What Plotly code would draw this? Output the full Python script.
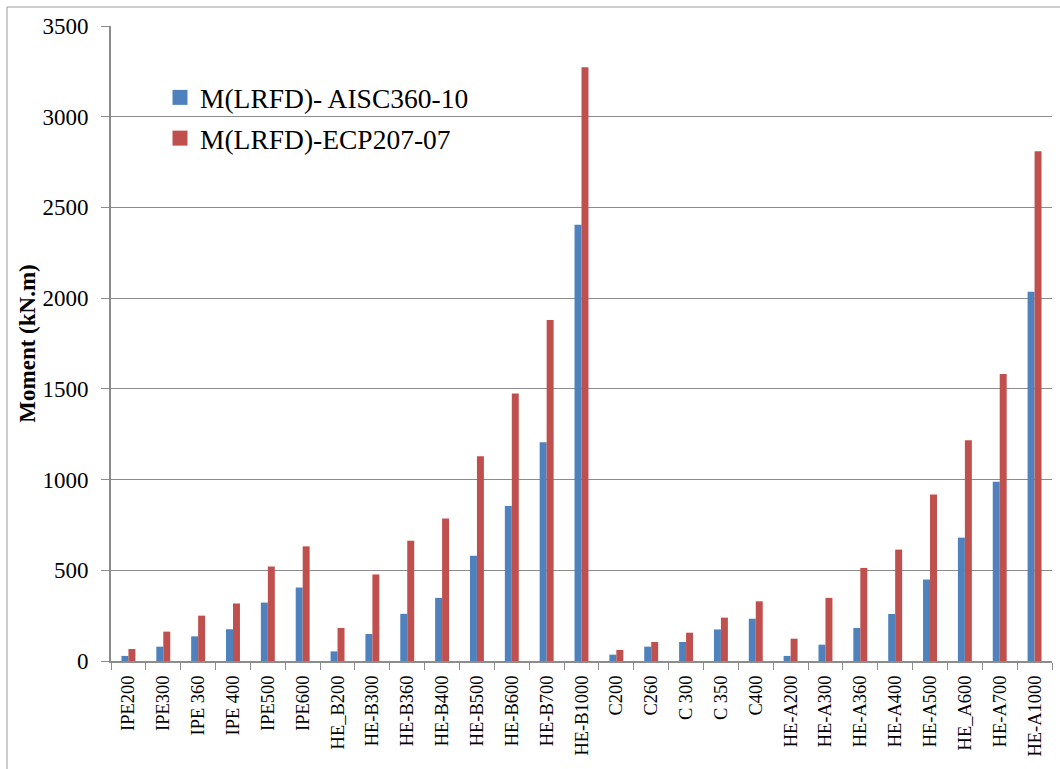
import plotly.graph_objects as go

# Section designations along the x axis
sections = [
    "IPE200", "IPE300", "IPE 360", "IPE 400", "IPE500", "IPE600",
    "HE_B200", "HE-B300", "HE-B360", "HE-B400", "HE-B500", "HE-B600", "HE-B700", "HE-B1000",
    "C200", "C260", "C 300", "C 350", "C400",
    "HE-A200", "HE-A300", "HE-A360", "HE-A400", "HE-A500", "HE_A600", "HE-A700", "HE-A1000",
]

# Design moments (kN.m)
m_aisc = [
    28, 79, 136, 175, 322, 405,
    53, 149, 260, 348, 580, 854, 1206, 2405,
    35, 79, 105, 174, 233,
    28, 90, 182, 259, 449, 680, 988, 2035,
]
m_ecp = [
    66, 162, 250, 317, 521, 632,
    182, 477, 663, 786, 1129, 1475, 1880, 3272,
    61, 105, 156, 239, 329,
    123, 348, 513, 614, 918, 1217, 1582, 2810,
]

series_names = ["M(LRFD)- AISC360-10", "M(LRFD)-ECP207-07"]
series_colors = ["#4F81BD", "#C0504D"]

y_ticks = [0, 500, 1000, 1500, 2000, 2500, 3000, 3500]

FONT = "Liberation Serif, Times New Roman, serif"
GRID = "#8C8C8C"

fig = go.Figure()
for i, (name, vals, col) in enumerate(zip(series_names, [m_aisc, m_ecp], series_colors)):
    fig.add_trace(go.Bar(
        x=sections, y=vals, name=name, marker_color=col,
        marker_line_width=0, showlegend=False,
    ))
    # square legend swatch
    fig.add_trace(go.Scatter(
        x=[None], y=[None], mode="markers", name=name, legendgroup=f"g{i}",
        marker=dict(symbol="square", size=15, color=col),
    ))

# outer chart frame
L, T, W, H = 111, 26, 941, 635
def px_x(p):
    return (p - L) / W
def px_y(p):
    return (T + H - p) / H

fig.add_shape(type="rect", xref="paper", yref="paper",
              x0=px_x(7), x1=px_x(1070), y0=px_y(780), y1=px_y(7),
              line=dict(color="#9A9A9A", width=1), fillcolor="rgba(0,0,0,0)",
              layer="below")

fig.update_layout(
    width=1060, height=769,
    margin=dict(l=L, r=1060 - L - W, t=T, b=769 - T - H),
    paper_bgcolor="white", plot_bgcolor="white",
    barmode="group", bargap=0.6, bargroupgap=0,
    font=dict(family=FONT, color="black"),
    legend=dict(
        x=px_x(160), y=px_y(73), xanchor="left", yanchor="top",
        font=dict(size=27.5, family="Liberation Serif"), bgcolor="rgba(0,0,0,0)",
        tracegroupgap=2, itemwidth=30,
    ),
    xaxis=dict(
        type="category", tickangle=-90,
        tickfont=dict(size=18.5, family=FONT),
        showline=True, linecolor=GRID, linewidth=2,
        ticks="outside", tickson="boundaries", ticklen=7, tickcolor=GRID, tickwidth=1,
        ticklabelstandoff=5,
        showgrid=False,
    ),
    yaxis=dict(
        range=[0, 3500], tickvals=y_ticks,
        tickfont=dict(size=23, family=FONT),
        showline=True, linecolor=GRID, linewidth=2,
        ticks="outside", ticklen=8, tickcolor=GRID, tickwidth=1,
        ticklabelstandoff=8,
        showgrid=True, gridcolor=GRID, gridwidth=1,
        zeroline=False,
        title=dict(text="<b>Moment (kN.m)</b>", font=dict(size=23, family=FONT), standoff=0),
    ),
)

fig.write_html("out.html")
